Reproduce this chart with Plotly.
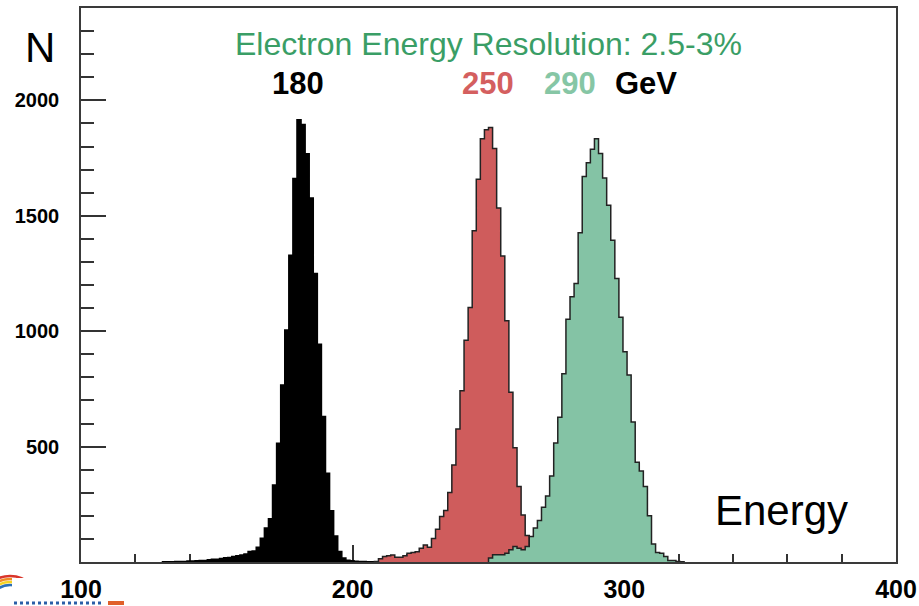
import plotly.graph_objects as go

# ---------------- data ----------------
BIN_WIDTH = 1.5          # GeV per bin
E_MIN, E_MAX = 100, 400  # axis range (GeV)
N_MAX = 2400

# 180 GeV beam (first bin low edge = 130 GeV)
black_start = 130.0
black_counts = [1, 1, 1, 2, 2,
                2, 4, 4, 5, 7, 7, 10, 12, 12, 15, 18, 20, 24, 27, 30,
                35, 45, 48, 64, 103, 147, 187, 334, 514, 767, 1005, 1329,
                1661, 1916, 1895, 1769, 1577, 1250, 943, 630, 384, 222,
                113, 46, 17, 8, 5, 3, 2, 2, 1, 1, 1]

# 250 GeV beam (first bin low edge = 208 GeV)
red_start = 208.0
red_counts = [2, 14, 24, 27, 30, 21, 21, 27, 38, 41, 44, 60, 74, 64, 102,
              142, 197, 223, 301, 420, 576, 742, 961, 1103, 1435, 1658,
              1834, 1873, 1882, 1791, 1534, 1326, 1045, 735, 495, 327, 204,
              115, 60, 30, 15, 6, 3]

# 290 GeV beam (first bin low edge = 250 GeV)
green_start = 250.0
green_counts = [17, 31, 31, 31, 38, 53, 67, 60, 53, 67, 110, 147, 180, 237,
                286, 373, 515, 627, 815, 1052, 1149, 1207, 1426, 1670, 1730,
                1788, 1834, 1770, 1663, 1546, 1394, 1228, 1060, 911, 810, 606,
                432, 394, 327, 200, 78, 41, 38, 24, 7, 7, 2, 1]

x_tickvals = [100, 200, 300, 400]
y_tickvals = [500, 1000, 1500, 2000]

# ---------------- style ----------------
FONT = "Liberation Sans, Arial, Helvetica, sans-serif"
RED_FILL = "#CF5C5C"
GREEN_FILL = "#84C3A5"
TITLE_GREEN = "#3A9E66"
OUTLINE = "#222222"


def step_xy(start, counts):
    edges = [start + BIN_WIDTH * i for i in range(len(counts) + 1)]
    xs = [edges[0]] + edges[:-1] + [edges[-1]]
    ys = [0] + list(counts) + [0]
    return xs, ys


fig = go.Figure()
for start, counts, fill, line in [
    (black_start, black_counts, "#000000", "#000000"),
    (red_start, red_counts, RED_FILL, OUTLINE),
    (green_start, green_counts, GREEN_FILL, OUTLINE),
]:
    xs, ys = step_xy(start, counts)
    fig.add_trace(go.Scatter(
        x=xs, y=ys, mode="lines", line_shape="hv",
        line=dict(color=line, width=1.5),
        fill="tozeroy", fillcolor=fill, showlegend=False,
        hoverinfo="skip"))

W, H = 919, 606
L, R, T, B = 81, 23, 8, 44
PW, PH = W - L - R, H - T - B


def px(xp):
    return (xp - L) / PW


def py(yp):
    return (H - B - yp) / PH


fig.update_layout(
    width=W, height=H,
    margin=dict(l=L, r=R, t=T, b=B, autoexpand=False),
    paper_bgcolor="white", plot_bgcolor="white",
    font=dict(family=FONT, color="black"),
    xaxis=dict(
        range=[E_MIN, E_MAX], tickmode="array", tickvals=x_tickvals,
        ticks="inside", ticklen=17, tickwidth=1.5, tickcolor="#333",
        tickfont=dict(size=25, weight="bold", color="black"),
        ticklabelstandoff=4, automargin=False,
        showline=True, linecolor="#3a3a3a", linewidth=1.5, mirror=True,
        showgrid=False, zeroline=False, layer="below traces",
        minor=dict(tickmode="linear", tick0=100, dtick=20, ticks="inside",
                   ticklen=8, tickwidth=1.5, tickcolor="#333"),
    ),
    yaxis=dict(
        range=[0, N_MAX], tickmode="array", tickvals=y_tickvals,
        ticks="inside", ticklen=25, tickwidth=1.5, tickcolor="#333",
        tickfont=dict(size=20, weight="bold", color="black"),
        ticklabelstandoff=16, automargin=False,
        showline=True, linecolor="#3a3a3a", linewidth=1.5, mirror=True,
        showgrid=False, zeroline=False, layer="below traces",
        minor=dict(tickmode="linear", tick0=0, dtick=100, ticks="inside",
                   ticklen=13, tickwidth=1.5, tickcolor="#333"),
    ),
)

annots = [
    ("N", 40, 47, 42, "black", "normal"),
    ("Electron Energy Resolution: 2.5-3%", 488, 44, 32, TITLE_GREEN, "normal"),
    ("180", 297.5, 83, 31, "black", "bold"),
    ("250", 488, 83, 31, "#D45F5F", "bold"),
    ("290", 570, 83, 31, "#86C6A5", "bold"),
    ("GeV", 646, 83, 31, "black", "bold"),
    ("Energy", 781.5, 510, 42, "black", "normal"),
]
for text, x, y, size, color, weight in annots:
    fig.add_annotation(
        text=text, x=px(x), y=py(y), xref="paper", yref="paper",
        xanchor="center", yanchor="middle", showarrow=False,
        font=dict(size=size, color=color, family=FONT, weight=weight))

# cropped slide logo fragment in the bottom-left corner
for r, col in [(30, "#d9352b"), (27, "#f08a24"), (24, "#f5d324"), (21, "#2a6fb8")]:
    fig.add_shape(type="circle", xref="paper", yref="paper",
                  x0=px(10 - r), x1=px(10 + r), y0=py(606 + r), y1=py(606 - r),
                  line=dict(color=col, width=2.5), layer="below")
fig.add_shape(type="rect", xref="paper", yref="paper",
              x0=px(12), x1=px(300), y0=py(606), y1=py(578),
              fillcolor="white", line=dict(width=0), layer="below")
fig.add_shape(type="line", xref="paper", yref="paper",
              x0=px(14), x1=px(104), y0=py(603), y1=py(603),
              line=dict(color="#2a5fa8", width=3, dash="dot"), layer="below")
fig.add_shape(type="line", xref="paper", yref="paper",
              x0=px(108), x1=px(124), y0=py(603), y1=py(603),
              line=dict(color="#e0602a", width=4), layer="below")

fig.write_html("out.html")
